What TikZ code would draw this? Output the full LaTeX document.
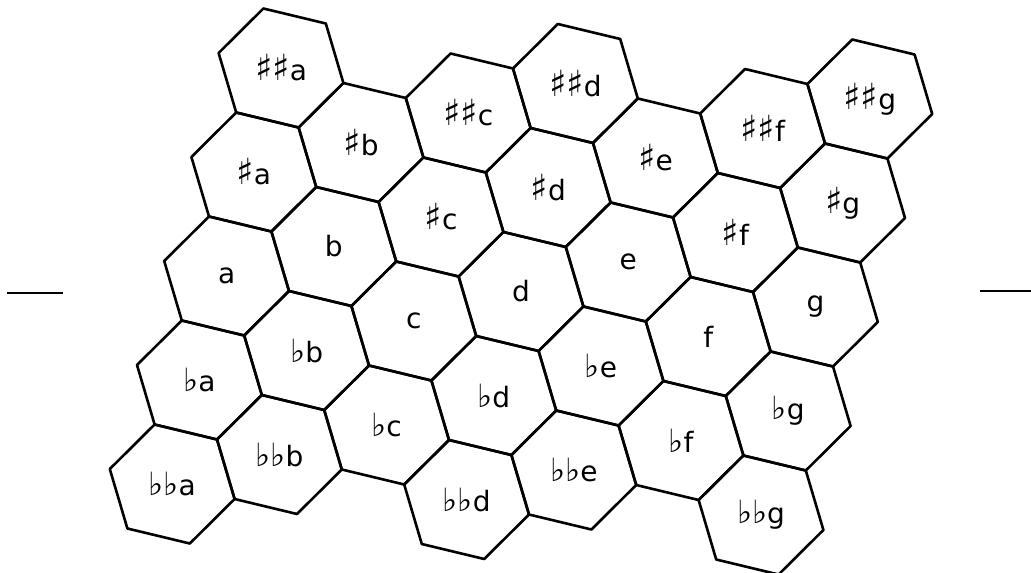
\documentclass[tikz,border=0pt]{standalone}
\usepackage{fontspec}
\setmainfont{DejaVu Sans}
\usepackage{tikz}
\usetikzlibrary{positioning,calc}

\newcommand{\notesharp}{{\fontsize{18}{15}\selectfont ♯}}
\newcommand{\noteflat}{{\fontsize{16}{15}\selectfont ♭}}

\tikzset{
  hexline/.style={draw=black, line width=1.3pt, line join=round},
  notename/.style={font=\fontsize{14}{16}\selectfont, inner sep=1pt},
}

\begin{document}
\begin{tikzpicture}
  \useasboundingbox (0pt,0pt) rectangle (515.5pt,-286pt);
  \fill[white] (0pt,0pt) rectangle (515.5pt,-286pt);

  % side marks
  \draw[line width=1.3pt] (3.5pt,-146.5pt) -- (31.5pt,-146.5pt);
  \draw[line width=1.3pt] (490pt,-145.5pt) -- (515.5pt,-145.5pt);

  \begin{scope}[shift={(140.5pt,-34pt)}, x={(53.6pt,14.75pt)}, y={(-13.6pt,-52pt)}]
    % cells
    \foreach \i/\j in {0/0,0/1,0/2,0/3,0/4, 1/1,1/2,1/3,1/4, 2/1,2/2,2/3,2/4,
                       3/1,3/2,3/3,3/4,3/5, 4/2,4/3,4/4,4/5, 5/2,5/3,5/4,5/5,
                       6/2,6/3,6/4,6/5,6/6}
      \draw[hexline] (\i,\j) ++(2/3,1/3) -- ++(-1/3,1/3) -- ++(-2/3,-1/3)
        -- ++(-1/3,-2/3) -- ++(1/3,-1/3) -- ++(2/3,1/3) -- cycle;

    % a column
    \node[notename] (a2s) at (0,0) {\notesharp\notesharp a};
    \node[notename] (a1s) at (0,1) {\notesharp a};
    \node[notename] (a0)  at (0,2) {a};
    \node[notename] (a1f) at (0,3) {\noteflat a};
    \node[notename] (a2f) at (0,4) {\noteflat\noteflat a};
    % b column
    \node[notename] (b1s) at (1,1) {\notesharp b};
    \node[notename] (b0)  at (1,2) {b};
    \node[notename] (b1f) at (1,3) {\noteflat b};
    \node[notename] (b2f) at (1,4) {\noteflat\noteflat b};
    % c column
    \node[notename] (c2s) at (2,1) {\notesharp\notesharp c};
    \node[notename] (c1s) at (2,2) {\notesharp c};
    \node[notename] (c0)  at (2,3) {c};
    \node[notename] (c1f) at (2,4) {\noteflat c};
    % d column
    \node[notename] (d2s) at (3,1) {\notesharp\notesharp d};
    \node[notename] (d1s) at (3,2) {\notesharp d};
    \node[notename] (d0)  at (3,3) {d};
    \node[notename] (d1f) at (3,4) {\noteflat d};
    \node[notename] (d2f) at (3,5) {\noteflat\noteflat d};
    % e column
    \node[notename] (e1s) at (4,2) {\notesharp e};
    \node[notename] (e0)  at (4,3) {e};
    \node[notename] (e1f) at (4,4) {\noteflat e};
    \node[notename] (e2f) at (4,5) {\noteflat\noteflat e};
    % f column
    \node[notename] (f2s) at (5,2) {\notesharp\notesharp f};
    \node[notename] (f1s) at (5,3) {\notesharp f};
    \node[notename] (f0)  at (5,4) {f};
    \node[notename] (f1f) at (5,5) {\noteflat f};
    % g column
    \node[notename] (g2s) at (6,2) {\notesharp\notesharp g};
    \node[notename] (g1s) at (6,3) {\notesharp g};
    \node[notename] (g0)  at (6,4) {g};
    \node[notename] (g1f) at (6,5) {\noteflat g};
    \node[notename] (g2f) at (6,6) {\noteflat\noteflat g};
  \end{scope}
\end{tikzpicture}
\end{document}
